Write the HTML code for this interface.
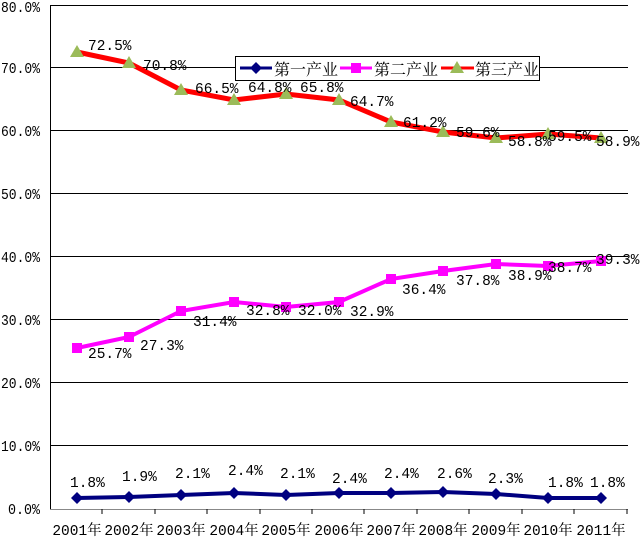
<!DOCTYPE html><html><head><meta charset="utf-8"><style>body{margin:0;background:#fff}svg text{font-family:"Liberation Mono","Noto Serif CJK SC",monospace;font-size:14.5px;fill:#000}</style></head><body>
<svg width="640" height="540" xmlns="http://www.w3.org/2000/svg">
<g stroke="#000" stroke-width="1">
<line x1="50" y1="5.5" x2="628" y2="5.5"/><line x1="50" y1="67.5" x2="628" y2="67.5"/><line x1="50" y1="130.5" x2="628" y2="130.5"/><line x1="50" y1="193.5" x2="628" y2="193.5"/><line x1="50" y1="256.5" x2="628" y2="256.5"/><line x1="50" y1="319.5" x2="628" y2="319.5"/><line x1="50" y1="382.5" x2="628" y2="382.5"/><line x1="50" y1="445.5" x2="628" y2="445.5"/>
<line x1="50.5" y1="5" x2="50.5" y2="509"/><line x1="50" y1="509.5" x2="628" y2="509.5" stroke="#888"/>
<path d="M102 509v5M155 509v5M207 509v5M260 509v5M312 509v5M364 509v5M417 509v5M469 509v5M522 509v5M574 509v5M627 509v5"/>
</g>
<g style="font-size:13px"><text x="1" y="12" textLength="39" lengthAdjust="spacingAndGlyphs">80.0%</text><text x="1" y="73" textLength="39" lengthAdjust="spacingAndGlyphs">70.0%</text><text x="1" y="136" textLength="39" lengthAdjust="spacingAndGlyphs">60.0%</text><text x="1" y="199" textLength="39" lengthAdjust="spacingAndGlyphs">50.0%</text><text x="1" y="262" textLength="39" lengthAdjust="spacingAndGlyphs">40.0%</text><text x="1" y="325" textLength="39" lengthAdjust="spacingAndGlyphs">30.0%</text><text x="1" y="388" textLength="39" lengthAdjust="spacingAndGlyphs">20.0%</text><text x="1" y="451" textLength="39" lengthAdjust="spacingAndGlyphs">10.0%</text><text x="8" y="514" textLength="32" lengthAdjust="spacingAndGlyphs">0.0%</text></g>
<g text-anchor="middle" style="font-size:15px"><text x="77" y="535">2001年</text><text x="129" y="535">2002年</text><text x="181" y="535">2003年</text><text x="234" y="535">2004年</text><text x="286" y="535">2005年</text><text x="339" y="535">2006年</text><text x="391" y="535">2007年</text><text x="443" y="535">2008年</text><text x="496" y="535">2009年</text><text x="548" y="535">2010年</text><text x="601" y="535">2011年</text></g>
<polyline fill="none" stroke="red" stroke-width="5" points="77,52 129,63 181,90 234,100 286,94 339,100 391,122 443,132 496,138 548,134 601,138"/>
<g fill="#9bbb59"><path d="M77,45l7,12h-14z"/><path d="M129,56l7,12h-14z"/><path d="M181,83l7,12h-14z"/><path d="M234,93l7,12h-14z"/><path d="M286,87l7,12h-14z"/><path d="M339,93l7,12h-14z"/><path d="M391,115l7,12h-14z"/><path d="M443,125l7,12h-14z"/><path d="M496,131l7,12h-14z"/><path d="M548,127l7,12h-14z"/><path d="M601,131l7,12h-14z"/></g>
<polyline fill="none" stroke="#f0f" stroke-width="4" points="77,348 129,337 181,311 234,302 286,307 339,302 391,279 443,271 496,264 548,266 601,261"/>
<g fill="#f0f"><rect x="72" y="343" width="10" height="10"/><rect x="124" y="332" width="10" height="10"/><rect x="176" y="306" width="10" height="10"/><rect x="229" y="297" width="10" height="10"/><rect x="281" y="302" width="10" height="10"/><rect x="334" y="297" width="10" height="10"/><rect x="386" y="274" width="10" height="10"/><rect x="438" y="266" width="10" height="10"/><rect x="491" y="259" width="10" height="10"/><rect x="543" y="261" width="10" height="10"/><rect x="596" y="256" width="10" height="10"/></g>
<polyline fill="none" stroke="#000080" stroke-width="4" points="77,498 129,497 181,495 234,493 286,495 339,493 391,493 443,492 496,494 548,498 601,498"/>
<g fill="#000080"><path d="M77,492l6,6-6,6-6-6z"/><path d="M129,491l6,6-6,6-6-6z"/><path d="M181,489l6,6-6,6-6-6z"/><path d="M234,487l6,6-6,6-6-6z"/><path d="M286,489l6,6-6,6-6-6z"/><path d="M339,487l6,6-6,6-6-6z"/><path d="M391,487l6,6-6,6-6-6z"/><path d="M443,486l6,6-6,6-6-6z"/><path d="M496,488l6,6-6,6-6-6z"/><path d="M548,492l6,6-6,6-6-6z"/><path d="M601,492l6,6-6,6-6-6z"/></g>
<text x="88" y="50">72.5%</text><text x="143" y="70">70.8%</text><text x="195" y="93">66.5%</text><text x="248" y="92">64.8%</text><text x="300" y="92">65.8%</text><text x="350" y="106">64.7%</text><text x="403" y="127">61.2%</text><text x="456" y="137">59.6%</text><text x="508" y="146">58.8%</text><text x="548" y="141">59.5%</text><text x="596" y="146">58.9%</text>
<text x="88" y="358">25.7%</text><text x="140" y="350">27.3%</text><text x="193" y="326">31.4%</text><text x="246" y="315">32.8%</text><text x="298" y="315">32.0%</text><text x="350" y="316">32.9%</text><text x="402" y="294">36.4%</text><text x="456" y="285">37.8%</text><text x="508" y="280">38.9%</text><text x="548" y="272">38.7%</text><text x="596" y="264">39.3%</text>
<text x="70" y="487">1.8%</text><text x="122" y="481">1.9%</text><text x="175" y="478">2.1%</text><text x="228" y="475">2.4%</text><text x="280" y="478">2.1%</text><text x="332" y="483">2.4%</text><text x="384" y="478">2.4%</text><text x="437" y="478">2.6%</text><text x="488" y="483">2.3%</text><text x="548" y="487">1.8%</text><text x="590" y="487">1.8%</text>
<rect x="235.5" y="56.5" width="304" height="24" fill="#fff" stroke="#000"/>
<line x1="240" y1="68" x2="272" y2="68" stroke="#000080" stroke-width="3"/><path d="M256,62l6,6-6,6-6-6z" fill="#000080"/><text x="274" y="75" style="font-size:16px">第一产业</text>
<line x1="340" y1="68" x2="372" y2="68" stroke="#f0f" stroke-width="3"/><rect x="351" y="63" width="10" height="10" fill="#f0f"/><text x="374" y="75" style="font-size:16px">第二产业</text>
<line x1="441" y1="68" x2="474" y2="68" stroke="red" stroke-width="3"/><path d="M457,61l7,12h-14z" fill="#9bbb59"/><text x="475" y="75" style="font-size:16px">第三产业</text>
</svg></body></html>
